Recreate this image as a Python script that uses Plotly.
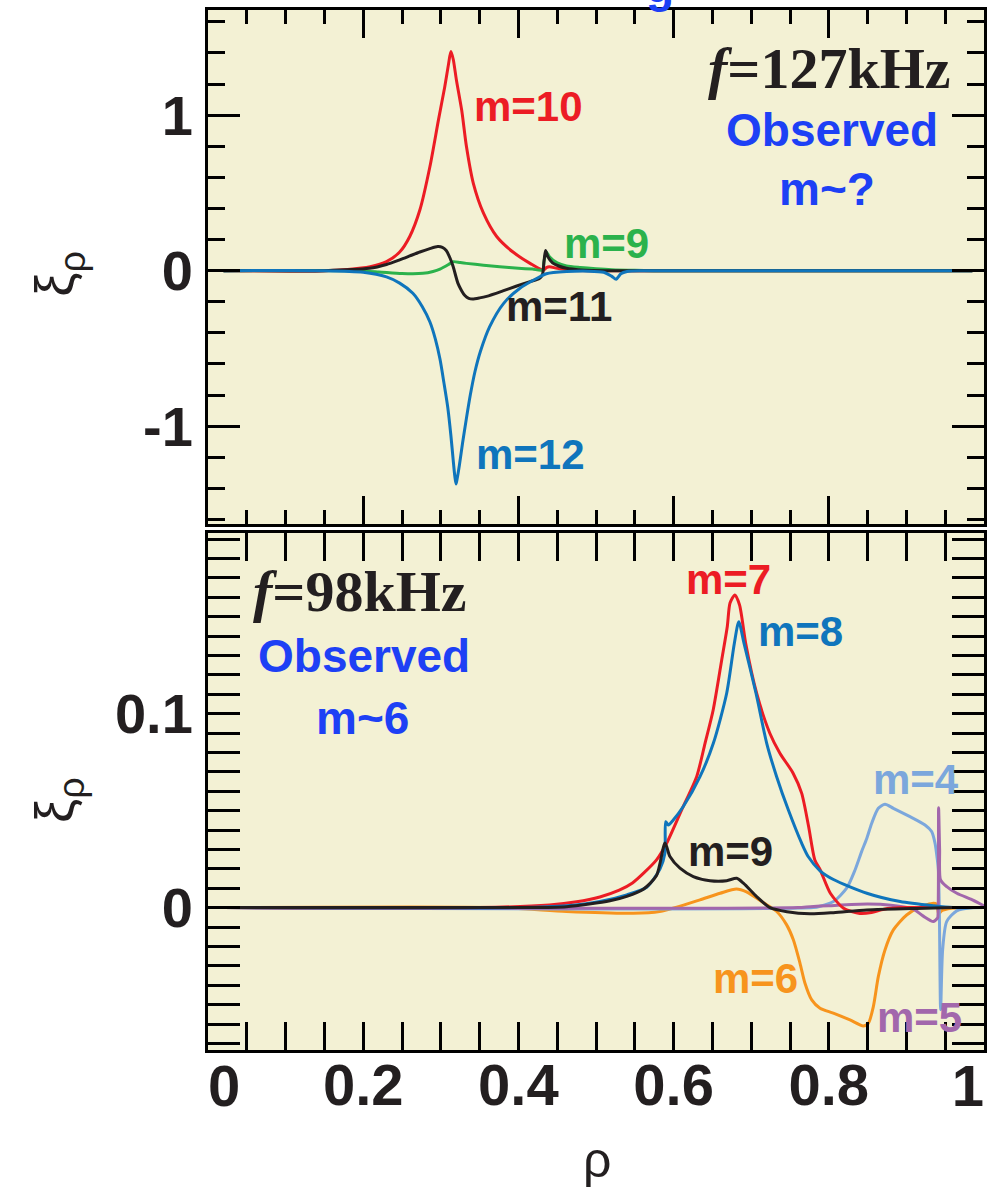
import plotly.graph_objects as go

# ---------------- upper panel: f = 127 kHz ----------------
rho_m10 = [0.02, 0.15, 0.18, 0.209, 0.230, 0.247, 0.260, 0.273, 0.286, 0.297, 0.305, 0.310,
           0.313, 0.316, 0.320, 0.327, 0.333, 0.342, 0.355, 0.372, 0.393, 0.415, 0.432,
           0.436, 0.440, 0.450, 0.470, 0.50, 0.985]
xi_m10 = [0.0, 0.0, 0.008, 0.026, 0.058, 0.12, 0.22, 0.39, 0.67, 0.97, 1.18, 1.33,
          1.41, 1.36, 1.23, 1.03, 0.80, 0.56, 0.37, 0.22, 0.12, 0.047, 0.003,
          0.02, 0.025, 0.015, 0.003, 0.0, 0.0]

rho_m9a = [0.02, 0.19, 0.22, 0.25, 0.277, 0.29, 0.299, 0.31, 0.316, 0.325, 0.333, 0.355,
           0.376, 0.40, 0.418, 0.431, 0.433, 0.436, 0.44, 0.45, 0.462, 0.48, 0.50, 0.52,
           0.55, 0.58, 0.985]
xi_m9a = [0.0, 0.0, -0.008, -0.018, -0.017, -0.005, 0.01, 0.04, 0.058, 0.052, 0.047, 0.035,
          0.025, 0.016, 0.01, 0.004, 0.06, 0.12, 0.09, 0.05, 0.03, 0.02, 0.012, 0.006,
          0.002, 0.0, 0.0]

rho_m11 = [0.02, 0.15, 0.208, 0.23, 0.247, 0.26, 0.273, 0.285, 0.296, 0.302, 0.307, 0.312,
           0.316, 0.322, 0.327, 0.331, 0.336, 0.341, 0.35, 0.359, 0.38, 0.397, 0.415, 0.427,
           0.431, 0.433, 0.435, 0.438, 0.444, 0.452, 0.462, 0.48, 0.52, 0.985]
xi_m11 = [0.0, 0.0, 0.015, 0.04, 0.07, 0.095, 0.12, 0.14, 0.155, 0.15, 0.13, 0.08,
          0.025, -0.08, -0.13, -0.16, -0.178, -0.182, -0.175, -0.165, -0.13, -0.10, -0.07, -0.05,
          -0.025, 0.06, 0.13, 0.09, 0.05, 0.03, 0.015, 0.005, 0.0, 0.0]

rho_m12 = [0.02, 0.15, 0.20, 0.230, 0.247, 0.264, 0.276, 0.286, 0.293, 0.299, 0.304, 0.309,
           0.313, 0.316, 0.318, 0.3196, 0.321, 0.324, 0.328, 0.333, 0.338, 0.344, 0.351,
           0.363, 0.381, 0.402, 0.424, 0.436, 0.462, 0.49, 0.51, 0.52, 0.526, 0.532, 0.54,
           0.56, 0.985]
xi_m12 = [0.0, 0.0, -0.01, -0.04, -0.08, -0.145, -0.23, -0.33, -0.44, -0.57, -0.72, -0.88,
          -1.06, -1.22, -1.32, -1.372, -1.34, -1.25, -1.11, -0.95, -0.80, -0.65, -0.52,
          -0.36, -0.21, -0.113, -0.049, -0.02, -0.006, -0.003, -0.01, -0.035, -0.055, -0.02,
          -0.005, 0.0, 0.0]

# ---------------- lower panel: f = 98 kHz ----------------
rho_m4 = [0.02, 0.78, 0.789, 0.806, 0.823, 0.8338, 0.8424, 0.8488, 0.8553, 0.8638, 0.8724,
          0.8832, 0.9046, 0.924, 0.9325, 0.9369, 0.9399, 0.9412, 0.9424, 0.9441, 0.9467,
          0.9519, 0.9648, 0.9854, 1.0]
xi_m4 = [0.0, 0.0, 0.0007, 0.0031, 0.010, 0.0194, 0.0290, 0.0355, 0.0435, 0.0512, 0.0533,
         0.0512, 0.0469, 0.0426, 0.0392, 0.0332, 0.0246, 0.0194, 0.0, -0.0527, -0.0218,
         -0.0072, -0.0017, 0.0, 0.0]

rho_m5 = [0.02, 0.76, 0.776, 0.80, 0.85, 0.88, 0.909, 0.9218, 0.9347, 0.9399, 0.9405,
          0.9415, 0.9428, 0.9440, 0.952, 0.965, 0.985, 1.0]
xi_m5 = [0.0, 0.0, 0.0005, 0.001, 0.0018, 0.0012, -0.0008, -0.0044, -0.0072, -0.0055, -0.005,
         0.0515, 0.030, 0.0143, 0.0108, 0.0074, 0.004, 0.0009]

rho_m6 = [0.02, 0.376, 0.462, 0.548, 0.582, 0.604, 0.634, 0.66, 0.681, 0.694, 0.7156, 0.7329,
          0.7457, 0.7543, 0.7629, 0.7693, 0.778, 0.7887, 0.8058, 0.8273, 0.8445, 0.851,
          0.8574, 0.8638, 0.8724, 0.8832, 0.9003, 0.9175, 0.9347, 0.939, 0.9418, 0.945,
          0.958, 1.0]
xi_m6 = [0.0, 0.0, -0.002, -0.0029, -0.002, 0.0002, 0.004, 0.0074, 0.0096, 0.0081, 0.0026, -0.002,
         -0.0089, -0.0166, -0.0287, -0.039, -0.0476, -0.0519, -0.0544, -0.0579, -0.061, -0.0596,
         -0.051, -0.0356, -0.0218, -0.0115, -0.0038, 0.0002, 0.0022, 0.0017, -0.0034, -0.0017,
         -0.0003, 0.0]

rho_m7 = [0.02, 0.35, 0.44, 0.475, 0.505, 0.53, 0.547, 0.562, 0.578, 0.591, 0.6104, 0.6297,
          0.6405, 0.651, 0.662, 0.6692, 0.6727, 0.679, 0.685, 0.693, 0.707, 0.724, 0.737,
          0.754, 0.765, 0.774, 0.782, 0.789, 0.802, 0.819, 0.840, 0.855, 0.871, 0.90, 1.0]
xi_m7 = [0.0, 0.0, 0.0014, 0.003, 0.0055, 0.009, 0.0127, 0.018, 0.0246, 0.0332, 0.0504, 0.0675,
         0.0847, 0.1019, 0.1277, 0.1449, 0.157, 0.1612, 0.156, 0.136, 0.1105, 0.0899, 0.0796,
         0.0693, 0.059, 0.0418, 0.0246, 0.0194, 0.0074, -0.0003, -0.003, -0.0025, -0.0008, 0.0, 0.0]

rho_m8 = [0.02, 0.40, 0.462, 0.505, 0.5396, 0.5653, 0.5825, 0.5888, 0.5898, 0.5932, 0.5996,
          0.6125, 0.634, 0.6512, 0.6684, 0.6783, 0.684, 0.6907, 0.7062, 0.72, 0.7328, 0.7478,
          0.765, 0.7736, 0.7887, 0.806, 0.849, 0.892, 0.935, 0.96, 1.0]
xi_m8 = [0.0, 0.0, 0.0009, 0.0031, 0.0066, 0.0105, 0.0200, 0.028, 0.0443, 0.0426, 0.0452,
         0.0521, 0.0675, 0.0847, 0.1105, 0.1363, 0.1474, 0.1363, 0.1105, 0.0847, 0.0675, 0.0504,
         0.0332, 0.0262, 0.0190, 0.0145, 0.0074, 0.0031, 0.0009, 0.0, 0.0]

rho_m9b = [0.02, 0.40, 0.462, 0.518, 0.5396, 0.561, 0.578, 0.589, 0.5953, 0.6082, 0.6254,
           0.6469, 0.6684, 0.6813, 0.6899, 0.707, 0.7242, 0.7461, 0.7758, 0.806, 0.849,
           0.913, 0.96, 1.0]
xi_m9b = [0.0, 0.0, 0.0005, 0.0035, 0.0058, 0.0095, 0.0165, 0.0333, 0.0263, 0.0203, 0.016,
          0.0139, 0.0139, 0.0151, 0.0126, 0.0057, 0.0, -0.0021, -0.0032, -0.0026, -0.0012,
          -0.0004, 0.0, 0.0]

rho_ticks = [0, 0.2, 0.4, 0.6, 0.8, 1.0]
rho_inner_ticks = [0.2, 0.4, 0.6, 0.8]
rho_inner_text = ["0.2", "0.4", "0.6", "0.8"]

RED = "#ec1c24"
GREEN = "#2bb24c"
BLACK = "#231f20"
BLUE = "#0f75bc"
LIGHTBLUE = "#7ba7dc"
ORANGE = "#f7941d"
PURPLE = "#a267ac"
OBS_BLUE = "#1d40f5"
PANEL_BG = "#f3f1d4"

fig = go.Figure()

top_traces = [
    (rho_m10, xi_m10, RED, "m=10"),
    (rho_m9a, xi_m9a, GREEN, "m=9"),
    (rho_m11, xi_m11, BLACK, "m=11"),
    (rho_m12, xi_m12, BLUE, "m=12"),
]
for xs, ys, col, name in top_traces:
    fig.add_trace(go.Scatter(x=xs, y=ys, mode="lines", name=name,
                             line=dict(color=col, width=3, shape="spline", smoothing=0.7),
                             xaxis="x", yaxis="y", showlegend=False))

bottom_traces = [
    (rho_m6, xi_m6, ORANGE, "m=6"),
    (rho_m4, xi_m4, LIGHTBLUE, "m=4"),
    (rho_m5, xi_m5, PURPLE, "m=5"),
    (rho_m7, xi_m7, RED, "m=7"),
    (rho_m8, xi_m8, BLUE, "m=8"),
    (rho_m9b, xi_m9b, BLACK, "m=9"),
]
for xs, ys, col, name in bottom_traces:
    fig.add_trace(go.Scatter(x=xs, y=ys, mode="lines", name=name,
                             line=dict(color=col, width=3, shape="spline", smoothing=0.7),
                             xaxis="x2", yaxis="y2", showlegend=False))

SANS = "Liberation Sans, Arial, sans-serif"
SERIF = "Liberation Serif, Times New Roman, serif"

frame = dict(showline=True, linewidth=3, linecolor="black", mirror="allticks",
             ticks="inside", tickwidth=3, tickcolor="black",
             showgrid=False, zeroline=False, automargin=False)
minor_x = dict(tick0=0, dtick=0.05, ticklen=14, tickwidth=3, tickcolor="black", ticks="inside")
xlabel_font = dict(family=SANS, size=58, color=BLACK, weight="bold")
ylabel_font = dict(family=SANS, size=56, color=BLACK, weight="bold")

# overlay x axes carrying only the end labels, aligned inward from their ticks
end_label = dict(overlaying="x2", anchor="y2", range=[0, 1], tickmode="array",
                 ticks="", showline=False, showgrid=False, zeroline=False,
                 automargin=False, ticklabelstandoff=-3, tickfont=xlabel_font)

fig.update_layout(
    width=990, height=1190,
    margin=dict(l=208, r=6, t=10, b=140, autoexpand=False),
    paper_bgcolor="white",
    plot_bgcolor=PANEL_BG,
    xaxis=dict(domain=[0, 1], range=[0, 1], anchor="y", showticklabels=False,
               tickmode="array", tickvals=rho_ticks, ticklen=28, minor=minor_x, **frame),
    yaxis=dict(domain=[0.5058, 1], range=[-1.629, 1.6765], anchor="x",
               tickmode="array", tickvals=[-1, 0, 1], ticktext=["-1", "0", "1"],
               ticklen=32, ticklabelstandoff=1, tickfont=ylabel_font,
               minor=dict(tickmode="linear", tick0=0, dtick=0.2, ticklen=17, tickwidth=3,
                          tickcolor="black", ticks="inside"),
               **frame),
    xaxis2=dict(domain=[0, 1], range=[0, 1], anchor="y2",
                tickmode="array", tickvals=rho_inner_ticks, ticktext=rho_inner_text,
                ticklen=28, ticklabelstandoff=-18, tickfont=xlabel_font,
                minor=minor_x, **frame),
    xaxis3=dict(tickvals=[0], ticktext=["0"], ticklabelposition="outside right", **end_label),
    xaxis4=dict(tickvals=[1], ticktext=["1"], ticklabelposition="outside left", **end_label),
    yaxis2=dict(domain=[0, 0.4971], range=[-0.0734, 0.1931], anchor="x2",
                tickmode="array", tickvals=[0, 0.1], ticktext=["0", "0.1"],
                ticklen=32, ticklabelstandoff=1, tickfont=ylabel_font,
                minor=dict(tickmode="linear", tick0=0, dtick=0.01, ticklen=17, tickwidth=3,
                           tickcolor="black", ticks="inside"),
                **frame),
    # long unlabelled ticks every 0.05 on the lower panel
    yaxis3=dict(overlaying="y2", anchor="x2", range=[-0.0734, 0.1931],
                tickmode="linear", tick0=0, dtick=0.05, ticks="inside", ticklen=32,
                tickwidth=3, tickcolor="black", showticklabels=False, mirror="allticks",
                showline=False, showgrid=False, zeroline=False, automargin=False),
)
# invisible carriers so the overlay axes are drawn
for xa, ya in (("x2", "y3"), ("x3", "y2"), ("x4", "y2")):
    fig.add_trace(go.Scatter(x=[0.5], y=[0.0], mode="markers", marker=dict(opacity=0),
                             xaxis=xa, yaxis=ya, showlegend=False, hoverinfo="skip"))

annotations = []


def label(text, x, y, color, xref, yref, size=42, family=SANS, weight="bold", **kw):
    annotations.append(dict(text=text, x=x, y=y, xref=xref, yref=yref, showarrow=False,
                            xanchor=kw.pop("xanchor", "center"),
                            yanchor=kw.pop("yanchor", "middle"),
                            font=dict(family=family, size=size, color=color, weight=weight),
                            **kw))


# mode labels, upper panel
label("m=10", 0.4124, 1.059, RED, "x", "y")
label("m=9", 0.5129, 0.178, GREEN, "x", "y")
label("m=11", 0.4523, -0.233, BLACK, "x", "y")
label("m=12", 0.415, -1.179, BLUE, "x", "y")
label("<i>f</i>=127kHz", 0.8015, 1.303, BLACK, "x", "y", size=58, family=SERIF)
label("Observed", 0.804, 0.905, OBS_BLUE, "x", "y", size=46)
label("m~?", 0.7977, 0.526, OBS_BLUE, "x", "y", size=46)

# mode labels, lower panel
label("m=7", 0.6701, 0.1689, RED, "x2", "y2")
label("m=8", 0.7629, 0.1421, BLUE, "x2", "y2")
label("m=4", 0.9124, 0.0658, LIGHTBLUE, "x2", "y2")
label("m=9", 0.6727, 0.0287, BLACK, "x2", "y2")
label("m=6", 0.7049, -0.0367, ORANGE, "x2", "y2")
label("m=5", 0.9175, -0.0569, PURPLE, "x2", "y2")
label("<i>f</i>=98kHz", 0.1959, 0.1627, BLACK, "x2", "y2", size=58, family=SERIF)
label("Observed", 0.201, 0.1297, OBS_BLUE, "x2", "y2", size=46)
label("m~6", 0.1985, 0.0978, OBS_BLUE, "x2", "y2", size=46)

# axis titles
label("ξ<sub>ρ</sub>", -0.1933, -0.02, BLACK, "paper", "y", size=54, weight="normal",
      textangle=-90)
label("ξ<sub>ρ</sub>", -0.1933, 0.0555, BLACK, "paper", "y2", size=54, weight="normal",
      textangle=-90)
label("ρ", 0.501, -0.1058, BLACK, "paper", "paper", size=50, weight="normal")

# title text running off the top edge
label("g", 0.5825, 1.0231, OBS_BLUE, "paper", "paper", size=46)

fig.update_layout(annotations=annotations)

fig.write_html("out.html")
